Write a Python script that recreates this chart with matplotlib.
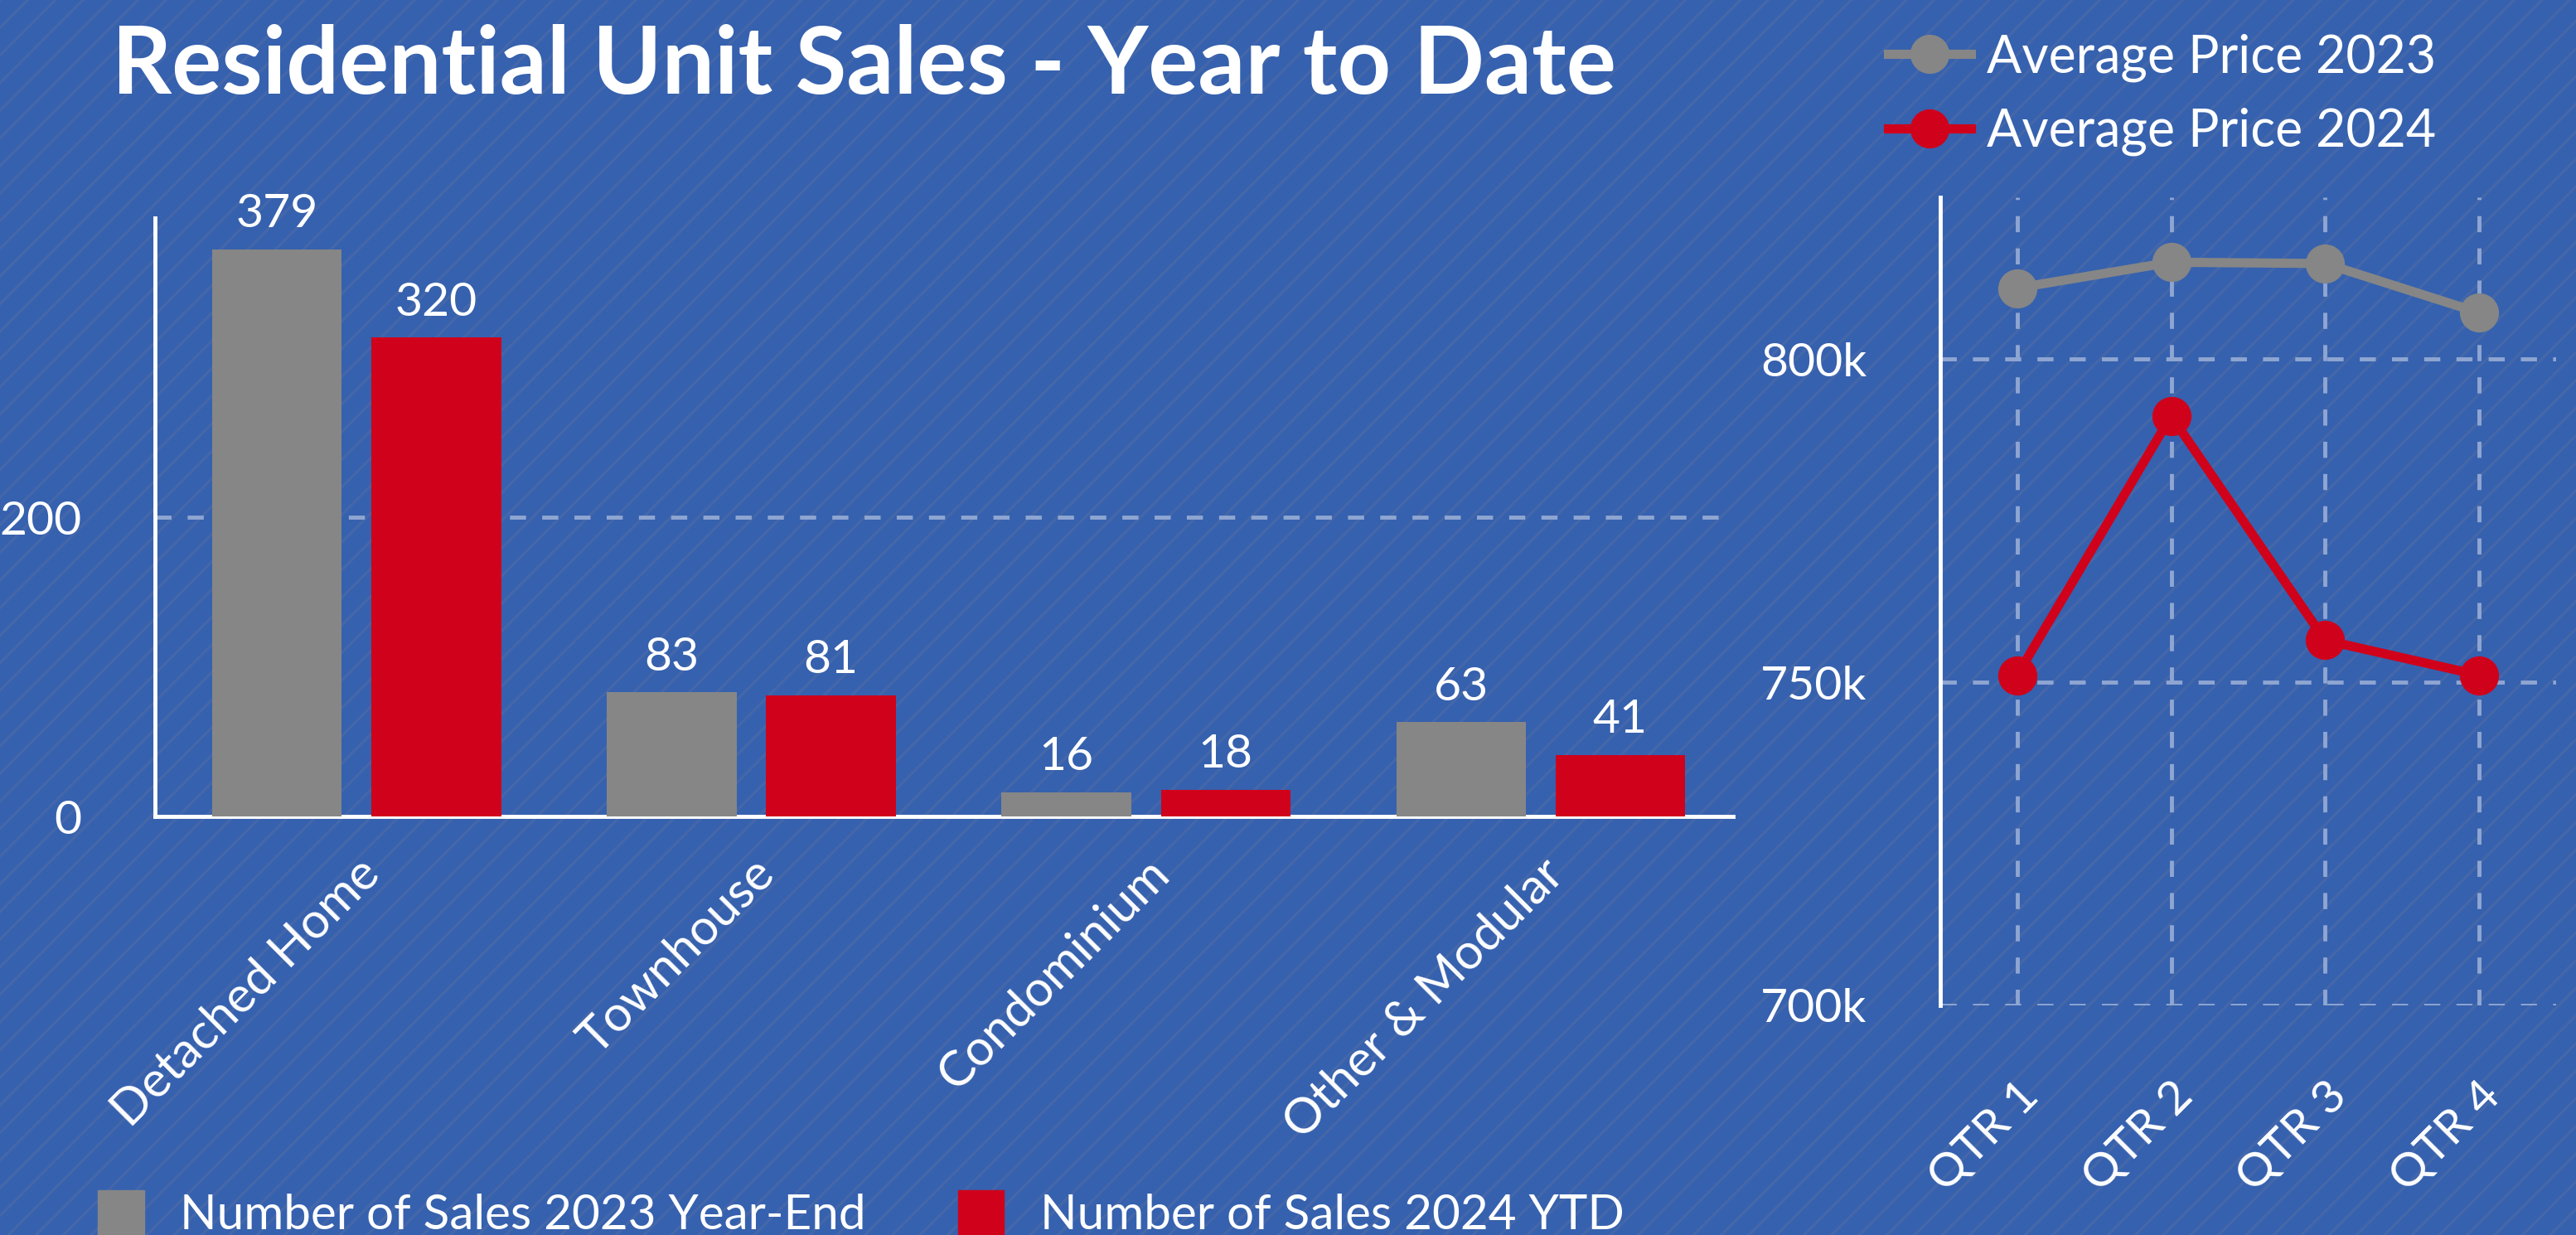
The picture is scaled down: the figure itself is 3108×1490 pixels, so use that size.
import matplotlib
matplotlib.use('Agg')
from matplotlib import pyplot as plt
from matplotlib.patches import Rectangle, Patch
from matplotlib.lines import Line2D
from matplotlib.ticker import FuncFormatter
import numpy as np

categories = ['Detached Home', 'Townhouse', 'Condominium', 'Other & Modular']
sales_2023 = [379, 83, 16, 63]
sales_2024 = [320, 81, 18, 41]

quarters = ['QTR 1', 'QTR 2', 'QTR 3', 'QTR 4']
avg_price_2023 = [811000, 815000, 814800, 807200]
avg_price_2024 = [751100, 791200, 756500, 751100]

bg_blue = '#3661AE'
stripe  = '#4467AA'
grey    = '#868686'
red     = '#D0021B'
grid_c  = '#8FA6D2'

plt.rcParams['font.family'] = ['Lato', 'DejaVu Sans']

fig = plt.figure(figsize=(31.08, 14.90), dpi=100)
fig.patch.set_facecolor(bg_blue)
plt.rcParams['hatch.linewidth'] = 2.5
fig.patches.append(Rectangle((0, 0), 1, 1, transform=fig.transFigure,
                             facecolor=bg_blue, edgecolor=stripe, hatch='/',
                             lw=0, zorder=-10))

fig.text(0.0434, 1 - 113 / 1490, 'Residential Unit Sales - Year to Date',
         fontsize=81, fontweight='bold', color='white', va='baseline')

# bar chart
ax_bar = fig.add_axes([0.0602, 0.3389, 0.6126, 0.4846])
ax_bar.set_facecolor('none')
x = np.arange(len(categories))
w = 0.328
b1 = ax_bar.bar(x - 0.2017, sales_2023, w, color=grey, zorder=3)
b2 = ax_bar.bar(x + 0.2017, sales_2024, w, color=red, zorder=3)
ax_bar.bar_label(b1, padding=12, fontsize=41, color='white')
ax_bar.bar_label(b2, padding=12, fontsize=41, color='white')
ax_bar.set_xlim(-0.511, 3.488)
ax_bar.set_ylim(0, 400)
ax_bar.set_yticks([0, 200])
ax_bar.set_xticks(x)
ax_bar.set_xticklabels(categories, rotation=45, ha='right', rotation_mode='anchor')
ax_bar.tick_params(axis='y', length=0, pad=64, labelsize=41, labelcolor='white')
ax_bar.tick_params(axis='x', length=0, pad=30, labelsize=43, labelcolor='white')
ax_bar.grid(axis='y', color=grid_c, linestyle=(0, (4, 4)), lw=3.5, zorder=0)
for s in ['top', 'right']:
    ax_bar.spines[s].set_visible(False)
for s in ['left', 'bottom']:
    ax_bar.spines[s].set_color('white')
    ax_bar.spines[s].set_linewidth(3.5)

fig.legend(handles=[Patch(color=grey, label='Number of Sales 2023 Year-End'),
                    Patch(color=red, label='Number of Sales 2024 YTD')],
           loc='center left', bbox_to_anchor=(0.038, 0.017), ncol=2,
           frameon=False, fontsize=42, labelcolor='white',
           handlelength=0.95, handleheight=1.05, handletextpad=0.75,
           columnspacing=1.9, borderpad=0, borderaxespad=0)

# line chart
ax_line = fig.add_axes([0.7532, 0.186, 0.239, 0.654])
ax_line.set_facecolor('none')
q = np.arange(len(quarters))
ax_line.plot(q, avg_price_2023, color=grey, lw=8, marker='o', ms=33,
             label='Average Price 2023', zorder=3)
ax_line.plot(q, avg_price_2024, color=red, lw=8, marker='o', ms=33,
             label='Average Price 2024', zorder=3)
ax_line.set_xlim(-0.5, 3.5)
ax_line.set_ylim(700000, 825000)
ax_line.set_yticks([700000, 750000, 800000])
ax_line.yaxis.set_major_formatter(FuncFormatter(lambda v, p: f'{int(v / 1000)}k'))
ax_line.set_xticks(q)
ax_line.set_xticklabels(quarters, rotation=45, ha='right', rotation_mode='anchor')
ax_line.tick_params(axis='y', length=0, pad=64, labelsize=41, labelcolor='white')
ax_line.tick_params(axis='x', length=0, pad=60, labelsize=41, labelcolor='white')
ax_line.grid(True, color=grid_c, linestyle=(0, (4, 4)), lw=3.5, zorder=0)
for s in ['top', 'right', 'bottom']:
    ax_line.spines[s].set_visible(False)
ax_line.spines['left'].set_color('white')
ax_line.spines['left'].set_linewidth(3.5)

fig.legend(handles=[Line2D([], [], color=grey, lw=8, marker='o', ms=33),
                    Line2D([], [], color=red, lw=8, marker='o', ms=33)],
           labels=['Average Price 2023', 'Average Price 2024'],
           loc='upper left', bbox_to_anchor=(0.733, 0.973),
           frameon=False, fontsize=45, labelcolor='white',
           handlelength=1.6, handletextpad=0.3, labelspacing=0.5,
           borderpad=0, borderaxespad=0)

fig.savefig('out.png', dpi=100, facecolor=bg_blue)
